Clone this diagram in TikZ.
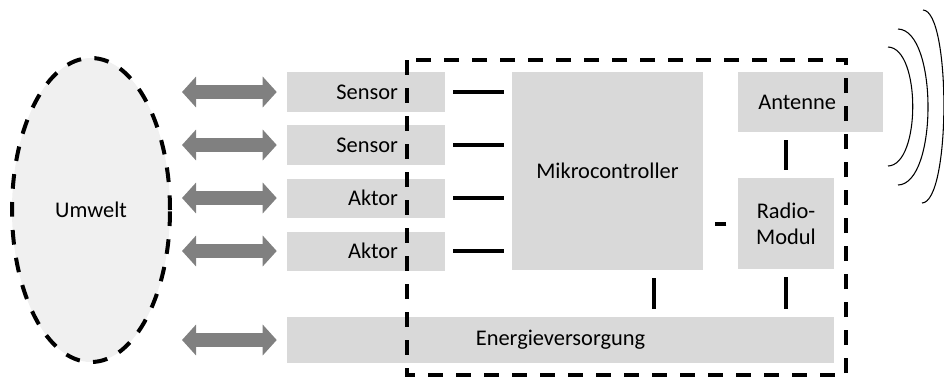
\documentclass[tikz,border=0pt]{standalone}
\usepackage{fontspec}
\setmainfont{Carlito}
\usetikzlibrary{arrows.meta,shapes.geometric}
\definecolor{boxgrau}{HTML}{D9D9D9}
\definecolor{umweltgrau}{HTML}{F0F0F0}
\definecolor{pfeilgrau}{HTML}{808080}

\begin{document}
\begin{tikzpicture}
        [
            x=0.75pt, y=-0.75pt,
            font=\fontsize{16.8}{19.5}\selectfont,
            block/.style={fill=boxgrau, inner sep=0pt},
            rechts/.style={label={[anchor=east, inner sep=0pt, xshift=-35.25pt]east:#1}},
            rand/.style={line width=3pt, dash pattern=on 11pt off 10pt},
            link/.style={line width=3pt, shorten <=6pt, shorten >=6pt},
            pfeil/.style={pfeilgrau, line width=10pt, shorten <=7.5pt, shorten >=7.5pt,
                {Triangle[width=22.5pt,length=10.5pt]}-{Triangle[width=22.5pt,length=10.5pt]}},
            welle/.style={line width=0.8pt},
        ]
        \useasboundingbox (0,0) rectangle (944,376);

        \node[ellipse, fill=umweltgrau, draw, rand, minimum width=118.5pt, minimum height=228pt] (umwelt) at (91,210) {Umwelt};

        \node[block, minimum width=118.5pt, minimum height=30pt, rechts=Sensor] (s1) at (366,92) {};
        \node[block, minimum width=118.5pt, minimum height=30pt, rechts=Sensor] (s2) at (366,145) {};
        \node[block, minimum width=118.5pt, minimum height=29.25pt, rechts={Aktor\ }] (a1) at (366,198) {};
        \node[block, minimum width=118.5pt, minimum height=29.25pt, rechts={Aktor\ }] (a2) at (366,251) {};
        \node[block, minimum width=143.25pt, minimum height=148.5pt] (mc) at (607.5,171) {Mikrocontroller};
        \node[block, minimum width=108.75pt, minimum height=45pt, rechts=Antenne] (ant) at (810.5,102) {};
        \node[block, minimum width=72pt, minimum height=68.25pt, align=center] (radio) at (786,223.5) {Radio-\\Modul};
        \node[block, minimum width=410.25pt, minimum height=34.5pt] (en) at (560.5,340) {Energieversorgung};

        \foreach \b in {s1,s2,a1,a2,en}
            \draw[pfeil] (\b.west -| umwelt.east) -- (\b.west);

        \foreach \b in {s1,s2,a1,a2}
            \draw[link] (\b.east) -- (\b.east -| mc.west);
        \draw[link, shorten <=8.5pt, shorten >=8.5pt] (radio.west) -- (radio.west -| mc.east);
        \draw[link] (radio.north) -- (radio.north |- ant.south);
        \draw[link] (radio.south) -- (radio.south |- en.north);
        \draw[link] ([xshift=-36.75pt]mc.south east) -- ([xshift=-36.75pt]mc.south east |- en.north);

        \draw[rand] (407,60) rectangle (846,375);

        \draw[welle] (888,47) .. controls (921,48) and (921,165) .. (888,166);
        \draw[welle] (898,29) .. controls (938,30) and (938,184) .. (898,185);
        \draw[welle] (923,10) .. controls (951,11) and (951,202) .. (922,203);
    \end{tikzpicture}
\end{document}
